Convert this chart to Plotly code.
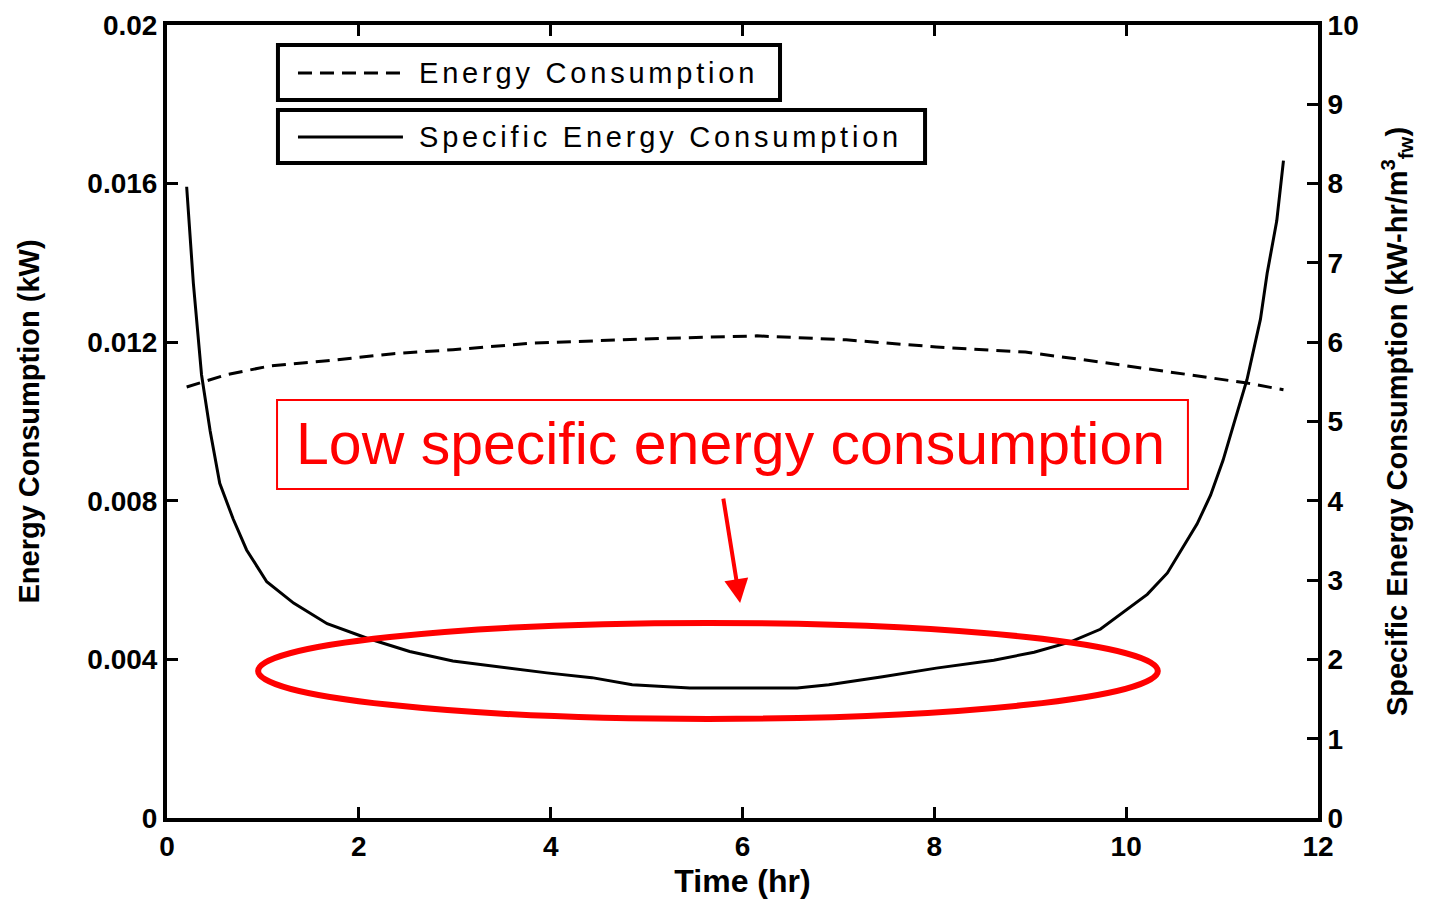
import plotly.graph_objects as go

# Specific energy consumption (right axis, kW-hr/m3)
sec_time = [0.205, 0.275, 0.36, 0.45, 0.55, 0.69, 0.83, 1.04, 1.32, 1.67, 2.08, 2.53, 2.98,
            3.55, 3.96, 4.43, 4.85, 5.45, 6.57, 6.9, 7.46, 8.02, 8.62, 9.04, 9.42, 9.73,
            9.97, 10.22, 10.43, 10.60, 10.74, 10.88, 11.01, 11.12, 11.26, 11.40, 11.47,
            11.57, 11.64]
sec_vals = [7.96, 6.74, 5.59, 4.88, 4.22, 3.77, 3.38, 2.98, 2.71, 2.45, 2.27, 2.10, 1.98,
            1.89, 1.83, 1.77, 1.68, 1.64, 1.64, 1.68, 1.78, 1.89, 1.99, 2.09, 2.22, 2.38,
            2.60, 2.82, 3.09, 3.44, 3.71, 4.07, 4.51, 4.96, 5.53, 6.29, 6.87, 7.53, 8.29]

# Energy consumption (left axis, kW)
ec_time = [0.205, 0.62, 1.07, 1.67, 2.36, 2.98, 3.83, 5.22, 6.15, 7.08, 8.02, 8.95,
           9.73, 10.6, 11.26, 11.64]
ec_vals = [0.01087, 0.01118, 0.0114, 0.01153, 0.01171, 0.01181, 0.01198, 0.0121, 0.01216,
           0.01206, 0.01188, 0.01175, 0.0115, 0.0112, 0.01097, 0.0108]

x_ticks = [0, 2, 4, 6, 8, 10, 12]
y_ticks = [0, 0.004, 0.008, 0.012, 0.016, 0.02]
y_ticklabels = ["0", "0.004", "0.008", "0.012", "0.016", "0.02"]
y2_ticks = list(range(0, 11))

BLACK = "#000000"
RED = "#ff0000"
tickfont = dict(family="Liberation Sans, Arial", size=28, color=BLACK, weight="bold")
ytitlefont = dict(family="Liberation Sans, Arial", size=29, color=BLACK, weight="bold")
xtitlefont = dict(family="Liberation Sans, Arial", size=32, color=BLACK, weight="bold")

fig = go.Figure()
fig.add_trace(go.Scatter(x=ec_time, y=ec_vals, mode="lines", yaxis="y",
                         line=dict(color=BLACK, width=3, dash="14px,8px"),
                         name="Energy Consumption", showlegend=False))
fig.add_trace(go.Scatter(x=sec_time, y=sec_vals, mode="lines", yaxis="y2",
                         line=dict(color=BLACK, width=3),
                         name="Specific Energy Consumption", showlegend=False))

fig.update_layout(
    width=1429, height=899,
    margin=dict(l=167, r=111, t=25, b=81),
    paper_bgcolor="white", plot_bgcolor="white",
    xaxis=dict(range=[0, 12], tickvals=x_ticks, showgrid=False, zeroline=False,
               showline=True, linewidth=4, linecolor=BLACK, mirror="ticks",
               ticks="inside", ticklen=11, tickwidth=3, tickcolor=BLACK,
               tickfont=tickfont, automargin=False,
               title=dict(text="Time (hr)", font=xtitlefont, standoff=14)),
    yaxis=dict(range=[0, 0.02], tickvals=y_ticks, ticktext=y_ticklabels,
               showgrid=False, zeroline=False, showline=True, linewidth=4,
               linecolor=BLACK, ticks="inside", ticklen=11, tickwidth=3,
               tickcolor=BLACK, tickfont=tickfont, automargin=False,
               title=dict(text="Energy Consumption (kW)", font=ytitlefont, standoff=40)),
    yaxis2=dict(range=[0, 10], tickvals=y2_ticks, overlaying="y", side="right",
                showgrid=False, zeroline=False, showline=True, linewidth=4,
                linecolor=BLACK, ticks="inside", ticklen=11, tickwidth=3,
                tickcolor=BLACK, tickfont=tickfont, automargin=False,
                title=dict(text="Specific Energy Consumption (kW-hr/m<sup>3</sup><sub>fw</sub>)",
                           font=ytitlefont, standoff=30)),
)

legfont = dict(family="Liberation Sans, Arial", size=29, color=BLACK)
# Legend boxes
fig.add_shape(type="rect", xref="paper", yref="paper", x0=0.0964, x1=0.5326, y0=0.9054, y1=0.9748,
              line=dict(color=BLACK, width=4), fillcolor="white")
fig.add_shape(type="rect", xref="paper", yref="paper", x0=0.0964, x1=0.6586, y0=0.826, y1=0.8928,
              line=dict(color=BLACK, width=4), fillcolor="white")
fig.add_shape(type="line", xref="paper", yref="paper", x0=0.1138, x1=0.2050, y0=0.9395, y1=0.9395,
              line=dict(color=BLACK, width=3, dash="14px,8px"))
fig.add_shape(type="line", xref="paper", yref="paper", x0=0.1138, x1=0.2050, y0=0.8588, y1=0.8588,
              line=dict(color=BLACK, width=3))
fig.add_annotation(xref="paper", yref="paper", x=0.2172, y=0.9395, xanchor="left", yanchor="middle",
                   text='<span style="letter-spacing:3.8px">Energy Consumption</span>',
                   showarrow=False, font=legfont)
fig.add_annotation(xref="paper", yref="paper", x=0.2172, y=0.8588, xanchor="left", yanchor="middle",
                   text='<span style="letter-spacing:3.8px">Specific Energy Consumption</span>',
                   showarrow=False, font=legfont)

# Red callout box and text
fig.add_shape(type="rect", xref="paper", yref="paper", x0=0.0956, x1=0.887, y0=0.4149, y1=0.5271,
              line=dict(color=RED, width=2), fillcolor="rgba(0,0,0,0)")
fig.add_annotation(xref="paper", yref="paper", x=0.4895, y=0.471, xanchor="center", yanchor="middle",
                   text="Low specific energy consumption", showarrow=False,
                   font=dict(family="Liberation Sans, Arial", size=59, color=RED))
# Arrow
fig.add_annotation(xref="x", yref="y", x=5.975, y=0.00542, ax=-17, ay=-106,
                   axref="pixel", ayref="pixel", text="", showarrow=True,
                   arrowcolor=RED, arrowwidth=4, arrowhead=2, arrowsize=1.2)
# Ellipse
fig.add_shape(type="circle", xref="x", yref="y", x0=0.95, x1=10.33, y0=0.0025, y1=0.00492,
              line=dict(color=RED, width=6))

fig.write_html("out.html")
